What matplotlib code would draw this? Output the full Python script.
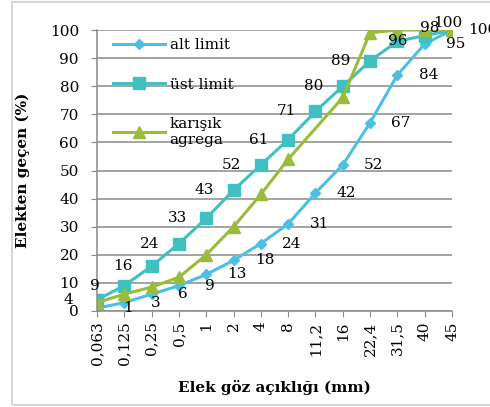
import numpy as np
import matplotlib.pyplot as plt
import matplotlib
from matplotlib.patches import Rectangle

matplotlib.rcParams['font.family'] = 'DejaVu Serif'
matplotlib.rcParams['font.size'] = 11

# Sieve sizes (category axis) and passing percentages
sizes = ["0,063", "0,125", "0,25", "0,5", "1", "2", "4", "8",
         "11,2", "16", "22,4", "31,5", "40", "45"]
alt_limit = [1, 3, 6, 9, 13, 18, 24, 31, 42, 52, 67, 84, 95, 100]
ust_limit = [4, 9, 16, 24, 33, 43, 52, 61, 71, 80, 89, 96, 98, 100]
karisik = [3, 6, 8.5, 12, 20, 30, 41.5, 54, 65, 76, 99, 100, 100, 100]

c_alt = "#4bc0e3"
c_ust = "#40c0c0"
c_kar = "#9bbb3b"

fig = plt.figure(figsize=(4.9, 4.07), dpi=100)
# light outer frame of the chart
fig.patches.append(Rectangle((12/490, 2/407), 1.0, 1 - 4/407, transform=fig.transFigure,
                             fill=False, ec="#d0d0d0", lw=1.2))
ax = fig.add_axes([97/490, 1 - 311/407, 355/490, 281/407])

x = np.arange(len(sizes))
ax.plot(x, alt_limit, color=c_alt, lw=2.2, marker="D", ms=5.5, label="alt limit")
ax.plot(x, ust_limit, color=c_ust, lw=2.2, marker="s", ms=8, label="üst limit")
# no marker drawn on the 11,2 point of the mix curve
ax.plot(x, karisik, color=c_kar, lw=2.2, marker="^", ms=9,
        markevery=[i for i in range(len(x)) if i != 8], label="karışık\nagrega")

# data labels
for i, v in enumerate(alt_limit):
    ax.annotate(str(v), (i, v), xytext=(31, 0), textcoords="offset pixels",
                ha="center", va="center", fontsize=11, annotation_clip=False)
ust_off = [(-29, 0)] * 11 + [(0, 0), (5, 8), (-4, 7)]
for i, v in enumerate(ust_limit):
    ax.annotate(str(v), (i, v), xytext=ust_off[i], textcoords="offset pixels",
                ha="center", va="center", fontsize=11, annotation_clip=False)

ax.set_xlim(0, len(sizes) - 1)
ax.set_ylim(0, 100)
ax.set_yticks(range(0, 101, 10))
ax.set_xticks(x)
ax.set_xticklabels(sizes, rotation=90)
ax.yaxis.grid(True, color="#8a8a8a", lw=1.1)
ax.set_axisbelow(True)
for s in ["top", "right"]:
    ax.spines[s].set_visible(False)
for s in ["left", "bottom"]:
    ax.spines[s].set_color("#8a8a8a")
    ax.spines[s].set_linewidth(1.1)
ax.tick_params(axis="both", colors="#8a8a8a", labelcolor="black", length=4,
               labelsize=11)
ax.tick_params(axis="y", pad=9)

ax.set_xlabel("Elek göz açıklığı (mm)", fontweight="bold", fontsize=11, labelpad=11)
ax.set_ylabel("Elekten geçen (%)", fontweight="bold", fontsize=11, labelpad=14)

ax.legend(loc="upper left", bbox_to_anchor=(0.045, 0.97), frameon=False,
          borderpad=0, borderaxespad=0, handlelength=3.4, handletextpad=0.3,
          labelspacing=1.65, fontsize=11)

fig.savefig("out.png", dpi=100)
